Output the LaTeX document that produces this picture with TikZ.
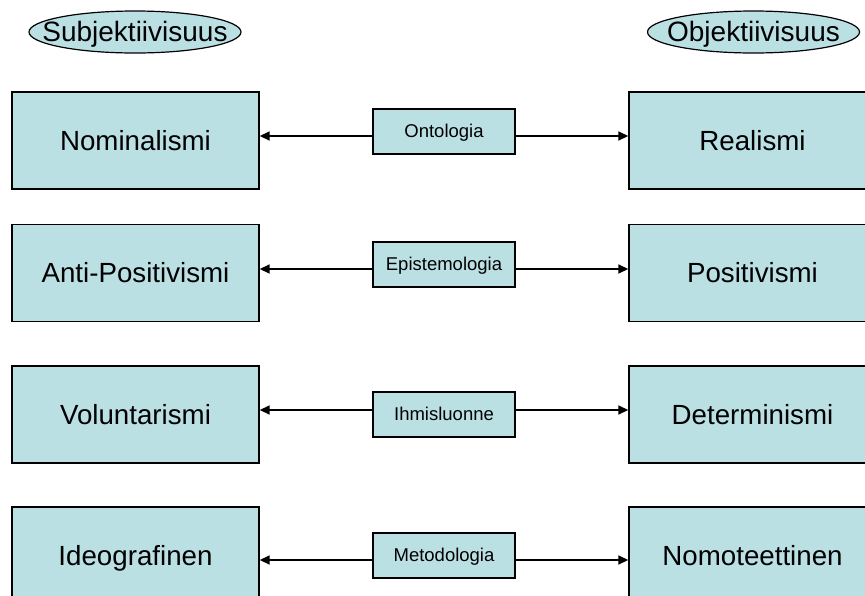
\documentclass[tikz,border=0pt]{standalone}
\usepackage{fontspec}
\setmainfont{Liberation Sans}
\usepackage{xcolor}
\usetikzlibrary{shapes.geometric}
\usetikzlibrary{arrows.meta}
\definecolor{paleblue}{RGB}{187,224,227}

\begin{document}
\begin{tikzpicture}[x=1pt,y=-1pt,
	bigbox/.style={draw,fill=paleblue,line width=1.4pt,minimum width=247pt,minimum height=97pt,inner sep=0pt,text height=20pt,text depth=1pt,font=\fontsize{27.7}{33}\selectfont},
	midbox/.style={draw,fill=paleblue,line width=1.4pt,minimum width=142pt,minimum height=45pt,inner sep=0pt,text height=13.3pt,text depth=0.7pt,font=\fontsize{18.5}{22}\selectfont},
	oval/.style={ellipse,draw,fill=paleblue,line width=1.2pt,minimum width=212pt,minimum height=42pt,inner sep=0pt,text height=20pt,text depth=1pt,font=\fontsize{28}{33}\selectfont},
	arr/.style={line width=1.6pt,-{Triangle[length=10pt,width=9pt]}}]
\path[use as bounding box,clip] (0,0) rectangle (865,595);
		\coordinate (S) at (135,32);
		\coordinate (O) at (753.5,32);
		% rows: left box, middle box, right box, arrow height
		\coordinate (L1) at (135.5,140.5);
		\coordinate (M1) at (444,131.5);
		\coordinate (R1) at (752.5,140.5);
		\coordinate (A1) at (444,136);
		\coordinate (L2) at (135.5,273);
		\coordinate (M2) at (444,264.5);
		\coordinate (R2) at (752.5,273);
		\coordinate (A2) at (444,269);
		\coordinate (L3) at (135.5,414.5);
		\coordinate (M3) at (444,414.5);
		\coordinate (R3) at (752.5,414.5);
		\coordinate (A3) at (444,410);
		\coordinate (L4) at (135.5,555.5);
		\coordinate (M4) at (444,555.5);
		\coordinate (R4) at (752.5,555.5);
		\coordinate (A4) at (444,560);
		\draw (S) node[oval] (subj) {\makebox[0pt]{Subjektiivisuus}};
		\draw (O) node[oval] (obj) {\makebox[0pt]{Objektiivisuus}};
		\draw (L1) node[bigbox] (nom) {Nominalismi};
		\draw (R1) node[bigbox] (real) {Realismi};
		\draw (M1) node[midbox] (ont) {Ontologia};
		\draw (L2) node[bigbox] (antipos) {Anti-Positivismi};
		\draw (R2) node[bigbox] (pos) {Positivismi};
		\draw (M2) node[midbox] (epi) {Epistemologia};
		\draw (L3) node[bigbox] (vol) {Voluntarismi};
		\draw (R3) node[bigbox] (det) {Determinismi};
		\draw (M3) node[midbox] (ihm) {Ihmisluonne};
		\draw (L4) node[bigbox] (ideo) {Ideografinen};
		\draw (R4) node[bigbox] (nomo) {Nomoteettinen};
		\draw (M4) node[midbox] (met) {Metodologia};
		\draw[arr] (ont.west |- A1) -- (nom.east |- A1);
		\draw[arr] (ont.east |- A1) -- (real.west |- A1);
		\draw[arr] (epi.west |- A2) -- (antipos.east |- A2);
		\draw[arr] (epi.east |- A2) -- (pos.west |- A2);
		\draw[arr] (ihm.west |- A3) -- (vol.east |- A3);
		\draw[arr] (ihm.east |- A3) -- (det.west |- A3);
		\draw[arr] (met.west |- A4) -- (ideo.east |- A4);
		\draw[arr] (met.east |- A4) -- (nomo.west |- A4);
\end{tikzpicture}
\end{document}
